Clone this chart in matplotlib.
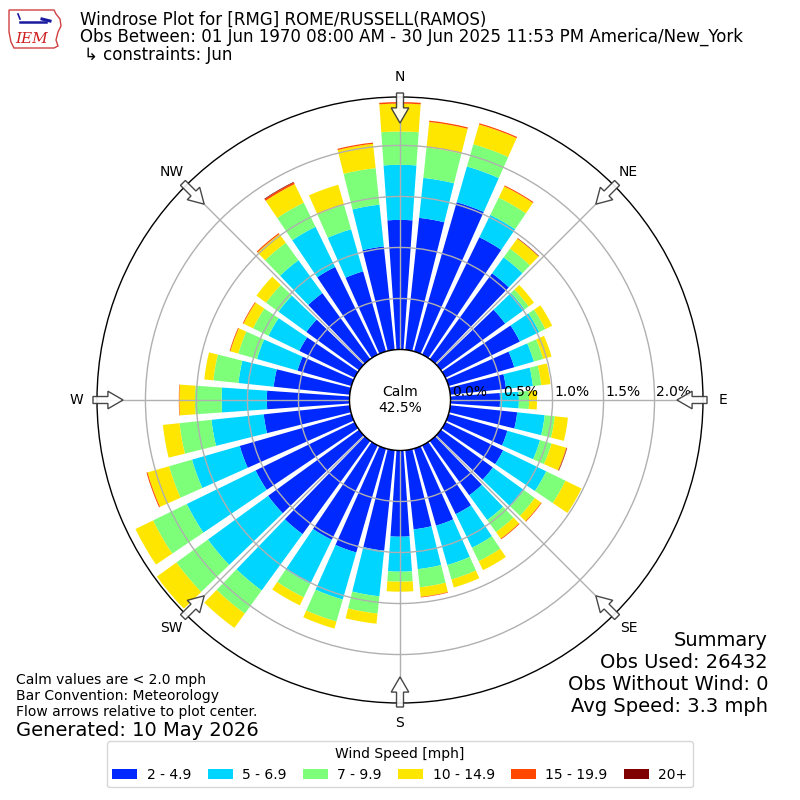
import numpy as np
import matplotlib
matplotlib.use("Agg")
import matplotlib.pyplot as plt
from matplotlib.patches import Circle, FancyArrow, Polygon
import matplotlib.transforms as mtransforms

# ---------------- data ----------------
directions = list(range(0, 360, 10))
speed_labels = ["2 - 4.9", "5 - 6.9", "7 - 9.9", "10 - 14.9", "15 - 19.9", "20+"]

# percent frequency per direction for each speed bin
spd_2_5 = [1.27, 1.30, 1.522, 1.28, 1.04, 0.779, 0.812, 0.67, 0.55, 0.485,
           0.66, 0.60, 0.63, 0.63, 0.66, 0.75, 0.786, 0.78, 0.845, 0.99,
           1.06, 1.03, 1.13, 1.103, 1.08, 1.139, 0.848, 0.81, 0.75, 0.55,
           0.603, 0.64, 0.80, 0.956, 0.817, 1.018]
spd_5_7 = [0.54, 0.394, 0.364, 0.244, 0.193, 0.236, 0.212, 0.20, 0.265, 0.185,
           0.271, 0.333, 0.47, 0.378, 0.299, 0.366, 0.402, 0.392, 0.343, 0.45,
           0.48, 0.48, 0.682, 0.729, 0.75, 0.487, 0.515, 0.443, 0.347, 0.413,
           0.337, 0.338, 0.398, 0.438, 0.429, 0.412]
spd_7_10 = [0.326, 0.299, 0.227, 0.188, 0.106, 0.049, 0.066, 0.095, 0.082, 0.10,
            0.10, 0.117, 0.21, 0.131, 0.147, 0.147, 0.147, 0.179, 0.098, 0.17,
            0.224, 0.147, 0.281, 0.382, 0.368, 0.234, 0.315, 0.262, 0.248, 0.191,
            0.168, 0.15, 0.211, 0.263, 0.248, 0.36]
spd_10_15 = [0.274, 0.252, 0.202, 0.123, 0.121, 0.065, 0.075, 0.085, 0.091, 0.078,
             0.129, 0.15, 0.175, 0.076, 0.079, 0.098, 0.082, 0.094, 0.098, 0.10,
             0.072, 0.088, 0.174, 0.236, 0.192, 0.22, 0.164, 0.153, 0.089, 0.081,
             0.104, 0.117, 0.106, 0.203, 0.206, 0.24]
spd_15_20 = [0.015, 0.013, 0.012, 0.010, 0.003, 0, 0, 0, 0, 0,
             0, 0.006, 0, 0.007, 0.008, 0, 0, 0.006, 0, 0,
             0, 0, 0, 0, 0, 0.01, 0, 0.005, 0, 0.008,
             0.008, 0, 0.012, 0.018, 0, 0.012]
spd_20p = [0, 0, 0, 0, 0.004, 0, 0, 0, 0, 0,
           0, 0.004, 0, 0, 0, 0, 0, 0, 0, 0,
           0, 0, 0, 0, 0, 0, 0, 0, 0, 0,
           0, 0, 0, 0.006, 0, 0]
speed_bins = [spd_2_5, spd_5_7, spd_7_10, spd_10_15, spd_15_20, spd_20p]

calm_pct = 42.5
ring_values = [0.5, 1.0, 1.5, 2.0]
rlabel_values = [0.0, 0.5, 1.0, 1.5, 2.0]
compass_labels = ["N", "NE", "E", "SE", "S", "SW", "W", "NW"]

# ---------------- figure ----------------
fig = plt.figure(figsize=(8, 8), dpi=100)
ax = fig.add_axes([97 / 800, 97 / 800, 606 / 800, 606 / 800], projection="polar")
ax.set_theta_zero_location("N")
ax.set_theta_direction(-1)
ax.set_ylim(0, 2.475)
ax.set_rorigin(-0.495)

colors = [plt.get_cmap("jet")(i / 6.0) for i in range(1, 7)]
theta = np.deg2rad(directions)
width = np.deg2rad(8.0)
bottom = np.zeros(len(directions))
handles = []
for vals, col, lab in zip(speed_bins, colors, speed_labels):
    vals = np.asarray(vals)
    b = ax.bar(theta, vals, width=width, bottom=bottom, color=col, label=lab,
               linewidth=0, clip_on=False, zorder=1)
    handles.append(b)
    bottom = bottom + vals

ax.set_thetagrids(range(0, 360, 45), labels=compass_labels)
ax.tick_params(axis="x", pad=4, labelsize=10)
ax.set_yticks(ring_values)
ax.set_yticklabels([])
ax.grid(True, color="#b0b0b0", linewidth=1.0)
ax.spines["polar"].set_linewidth(1.0)
ax.spines["polar"].set_zorder(4)

# radial labels
off = mtransforms.offset_copy(ax.transData, fig=fig, x=1.5, y=1.0, units="dots")
for v in rlabel_values:
    ax.text(np.deg2rad(90), v, f"{v:.1f}%", transform=off, ha="left", va="bottom",
            fontsize=10, zorder=7, clip_on=False)

# calm circle
ax.add_patch(Circle((0.5, 0.5), 50.5 / 606, transform=ax.transAxes, facecolor="white",
                    edgecolor="black", linewidth=1.0, zorder=5, clip_on=False))
ax.text(0.5, 0.5, f"Calm\n{calm_pct:.1f}%", transform=ax.transAxes, ha="center",
        va="center", fontsize=10, zorder=6)

# flow arrows
for a in range(0, 360, 45):
    u = np.array([np.sin(np.deg2rad(a)), np.cos(np.deg2rad(a))])
    start = 0.5 + 0.5066 * u
    end = 0.5 + 0.457 * u
    d = end - start
    ax.add_patch(FancyArrow(start[0], start[1], d[0], d[1], width=0.0115,
                            head_width=0.029, head_length=0.025,
                            length_includes_head=True, transform=ax.transAxes,
                            facecolor="white", edgecolor="#333333", linewidth=1.0,
                            zorder=10, clip_on=False, alpha=0.9))

# ---------------- texts ----------------
fig.text(80 / 800, 1 - 20 / 800, "Windrose Plot for [RMG] ROME/RUSSELL(RAMOS)",
         fontsize=12, va="center", ha="left")
fig.text(80 / 800, 1 - 37 / 800,
         "Obs Between: 01 Jun 1970 08:00 AM - 30 Jun 2025 11:53 PM America/New_York",
         fontsize=12, va="center", ha="left")
fig.text(84 / 800, 1 - 55 / 800, "\u21b3 constraints: Jun", fontsize=12, va="center",
         ha="left")

left_notes = ["Calm values are < 2.0 mph", "Bar Convention: Meteorology",
              "Flow arrows relative to plot center."]
for i, t in enumerate(left_notes):
    fig.text(16 / 800, 1 - (680 + 16 * i) / 800, t, fontsize=10, va="center", ha="left")
fig.text(16 / 800, 1 - 730 / 800, "Generated: 10 May 2026", fontsize=14, va="center",
         ha="left")

summary = ["Summary", "Obs Used: 26432", "Obs Without Wind: 0", "Avg Speed: 3.3 mph"]
for i, t in enumerate(summary):
    fig.text(768 / 800, 1 - (640 + 22 * i) / 800, t, fontsize=14, va="center", ha="right")

# IEM logo approximation
logo_ax = fig.add_axes([6 / 800, 1 - 52 / 800, 58 / 800, 46 / 800])
logo_ax.set_xlim(0, 58)
logo_ax.set_ylim(0, 46)
logo_ax.axis("off")
logo_ax.add_patch(Polygon([[3, 42], [48, 42], [50, 38], [54, 33], [55, 26], [52, 20],
                           [50, 12], [52, 6], [48, 4], [8, 4], [5, 10], [3, 20]],
                          closed=True, fill=False, edgecolor="#d04040", linewidth=1.0))
logo_ax.plot([14, 40], [30, 30], color="#1a1aa0", linewidth=1.8)
logo_ax.plot([36, 44], [33, 31], color="#1a1aa0", linewidth=2.2)
logo_ax.plot([12, 14], [38, 33], color="#1a1aa0", linewidth=1.2)
logo_ax.text(26, 13, "IEM", color="#d02020", fontsize=11, style="italic",
             family="DejaVu Serif", ha="center", va="center")

# legend
fig.legend(handles=handles, labels=speed_labels, loc="lower center",
           bbox_to_anchor=(0.5, 0.007), ncol=6, title="Wind Speed [mph]", fontsize=10,
           title_fontsize=10, handlelength=1.8, handletextpad=0.7, columnspacing=1.15)

fig.savefig("out.png", dpi=100)
